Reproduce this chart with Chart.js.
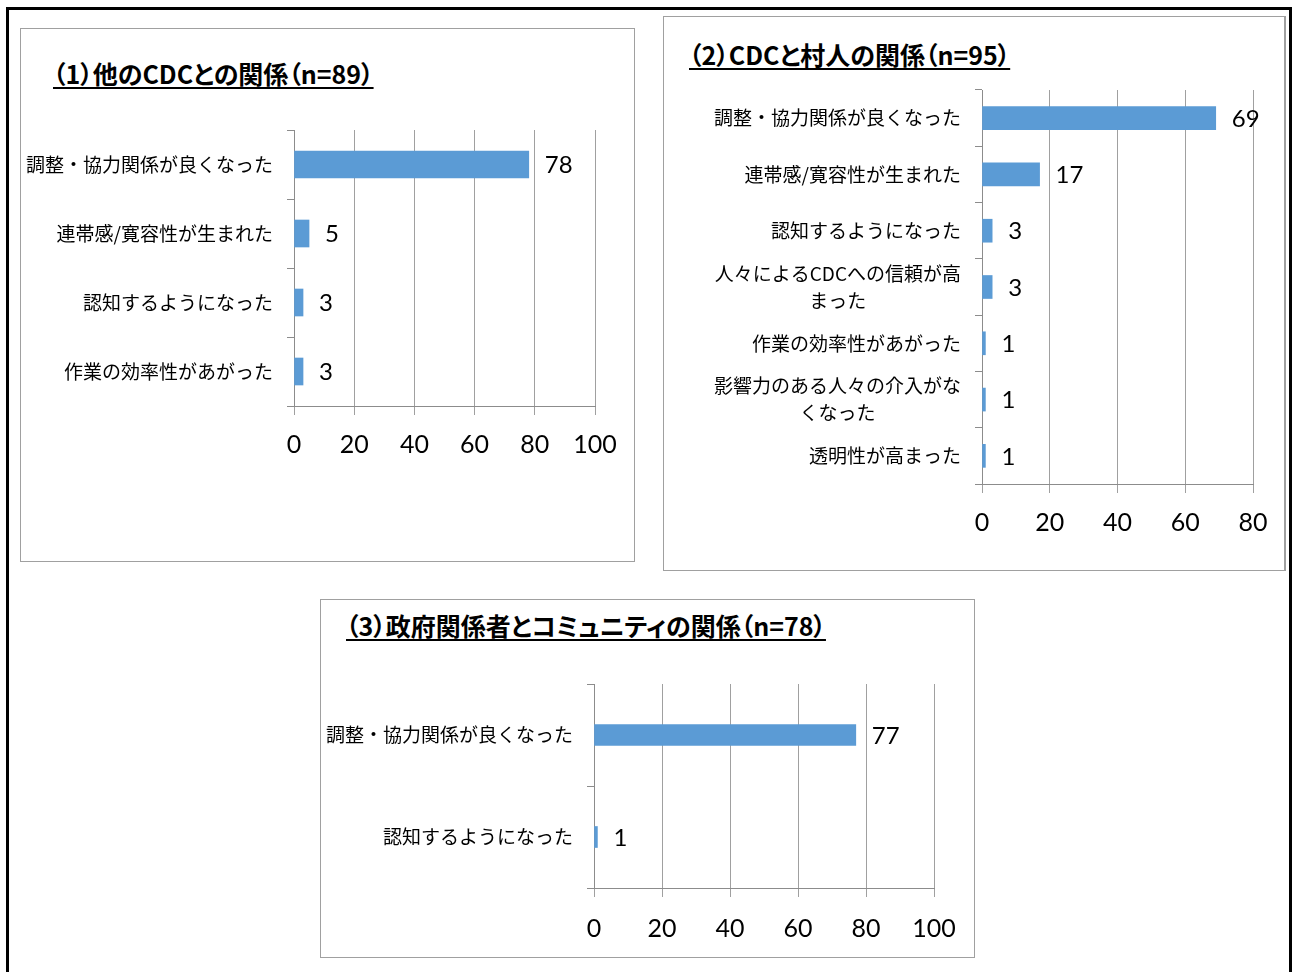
<!DOCTYPE html>
<html lang="ja">
<head>
<meta charset="utf-8">
<title>関係の変化</title>
<script src="https://cdn.jsdelivr.net/npm/chart.js@4.4.0/dist/chart.umd.min.js"></script>
<style>
  html, body { margin: 0; padding: 0; background: #fff; overflow: hidden; }
  #page { position: relative; width: 1295px; height: 972px; overflow: hidden; }
  .outer { position: absolute; left: 6px; top: 7px; width: 1280px; height: 1000px; border: 3px solid #000; }
  .panel { position: absolute; border: 1px solid #a0a0a0; background: #fff; }
  .title { position: absolute; font-family: "Noto Sans CJK JP", sans-serif; font-weight: bold; font-size: 25px;
           font-feature-settings: "palt" 1; line-height: 1; color: #000; text-decoration: underline;
           text-underline-offset: 3px; white-space: nowrap; }
  canvas { position: absolute; }
</style>
</head>
<body>
<div id="page">
  <div class="outer"></div>
  <div class="panel" style="left:20px;top:28px;width:613px;height:532px;"></div>
  <div class="panel" style="left:663px;top:16px;width:620px;height:553px;border-right:2px solid #a0a0a0;"></div>
  <div class="panel" style="left:320px;top:599px;width:653px;height:357px;"></div>

  <div class="title" style="left:53px;top:61px;">（1）他のCDCとの関係（n=89）</div>
  <div class="title" style="left:689px;top:42px;">（2）CDCと村人の関係（n=95）</div>
  <div class="title" style="left:346px;top:613px;">（3）政府関係者とコミュニティの関係（n=78）</div>

  <canvas id="c1" style="left:20px;top:110px;" width="614" height="356"></canvas>
  <canvas id="c2" style="left:663px;top:70px;" width="621" height="474"></canvas>
  <canvas id="c3" style="left:320px;top:664px;" width="654" height="284"></canvas>
</div>
<script>
// (1) 他のCDCとの関係
const cats1 = ['調整・協力関係が良くなった', '連帯感/寛容性が生まれた', '認知するようになった', '作業の効率性があがった'];
const vals1 = [78, 5, 3, 3];
const max1 = 100;

// (2) CDCと村人の関係
const cats2 = ['調整・協力関係が良くなった', '連帯感/寛容性が生まれた', '認知するようになった',
  ['人々によるCDCへの信頼が高', 'まった'], '作業の効率性があがった',
  ['影響力のある人々の介入がな', 'くなった'], '透明性が高まった'];
const vals2 = [69, 17, 3, 3, 1, 1, 1];
const max2 = 80;

// (3) 政府関係者とコミュニティの関係
const cats3 = ['調整・協力関係が良くなった', '認知するようになった'];
const vals3 = [77, 1];
const max3 = 100;

const tickStep = 20;

const BAR = '#5b9bd5';
const GRID = '#a0a0a0';
const AXIS = '#8c8c8c';
const NUM_FONT = 'Lato, "Open Sans", sans-serif';

// 項目ラベル（複数行は中央揃え、ブロックは右揃え）
const catLabels = {
  id: 'catLabels',
  afterDraw(chart) {
    const ctx = chart.ctx;
    const ys = chart.scales.y;
    const right = chart.chartArea.left - 21;
    ctx.save();
    ctx.font = '19px "Noto Sans CJK JP", sans-serif';
    ctx.fillStyle = '#000';
    ctx.textBaseline = 'middle';
    ctx.textAlign = 'center';
    chart.data.labels.forEach((lab, i) => {
      const lines = Array.isArray(lab) ? lab : [lab];
      const w = Math.max(...lines.map(l => ctx.measureText(l).width));
      const cy = ys.getPixelForTick(i);
      lines.forEach((l, j) => {
        ctx.fillText(l, right - w / 2, cy + (j - (lines.length - 1) / 2) * 27);
      });
    });
    ctx.restore();
  }
};

// 棒の右に値を表示
const valueLabels = {
  id: 'valueLabels',
  afterDatasetsDraw(chart) {
    const ctx = chart.ctx;
    const meta = chart.getDatasetMeta(0);
    ctx.save();
    ctx.font = '24px ' + NUM_FONT;
    ctx.fillStyle = '#000';
    ctx.textAlign = 'left';
    ctx.textBaseline = 'middle';
    meta.data.forEach((bar, i) => {
      ctx.fillText(chart.data.datasets[0].data[i], bar.x + 16, bar.y + 1);
    });
    ctx.restore();
  }
};

function makeChart(id, labels, values, max, yWidth, padRight, thickness, tickPad) {
  return new Chart(document.getElementById(id), {
    type: 'bar',
    data: {
      labels: labels,
      datasets: [{
        data: values,
        backgroundColor: BAR,
        borderWidth: 0,
        barThickness: thickness
      }]
    },
    options: {
      indexAxis: 'y',
      responsive: false,
      animation: false,
      layout: { padding: { top: 20, right: padRight, left: 0, bottom: 0 } },
      plugins: { legend: { display: false }, tooltip: { enabled: false } },
      scales: {
        x: {
          min: 0,
          max: max,
          ticks: { stepSize: tickStep, color: '#000', font: { family: NUM_FONT, size: 25 }, padding: tickPad, maxRotation: 0 },
          grid: { color: GRID, tickLength: 9, tickColor: GRID },
          border: { color: AXIS },
          afterFit(scale) { scale.height = 60; }
        },
        y: {
          ticks: { display: false },
          grid: { drawOnChartArea: false, offset: true, tickLength: 7, tickColor: AXIS },
          border: { color: AXIS },
          afterFit(scale) { scale.width = yWidth; }
        }
      }
    },
    plugins: [catLabels, valueLabels]
  });
}

makeChart('c1', cats1, vals1, max1, 274, 39, 27, 15);
makeChart('c2', cats2, vals2, max2, 319, 31, 23, 15);
makeChart('c3', cats3, vals3, max3, 274, 40, 21, 17);
</script>
</body>
</html>
